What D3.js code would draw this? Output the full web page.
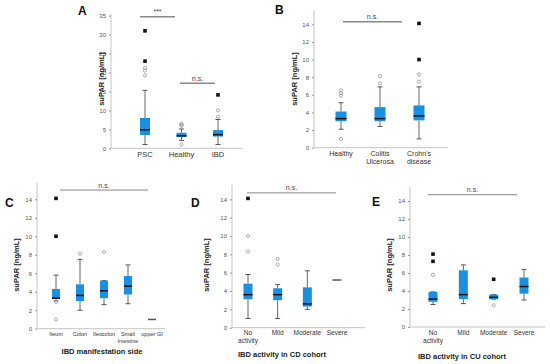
<!DOCTYPE html>
<html>
<head>
<meta charset="utf-8">
<script src="https://cdn.jsdelivr.net/npm/d3@7"></script>
<style>
  body { margin: 0; background: #fff; }
  svg { display: block; font-family: "Liberation Sans", Arial, sans-serif; }
</style>
</head>
<body>
<svg id="chart" width="550" height="364"></svg>
<script>
// box stats are [whiskerLow, q1, median, q3, whiskerHigh]
var catsA = ["PSC", "Healthy", "IBD"],
    boxA = [[1.0, 3.5, 4.9, 8.0, 15.3], [2.1, 3.0, 3.3, 4.1, 5.1], [1.0, 3.1, 3.6, 4.8, 7.6]],
    outA = [[19.2, 20.5, 21.2], [1.0, 5.9, 6.2, 6.5], [8.3, 10.0]],
    extA = [[23.0, 31.0], [], [14.1]];

var catsB = ["Healthy", "Colitis\nUlcerosa", "Crohn's\ndisease"],
    boxB = [[2.1, 3.0, 3.3, 4.1, 5.1], [2.4, 3.0, 3.3, 4.6, 6.9], [1.0, 3.1, 3.6, 4.8, 6.9]],
    outB = [[1.0, 5.9, 6.2, 6.5], [7.3, 8.1], [7.5, 8.3]],
    extB = [[], [], [10.0, 14.1]];

var catsC = ["Ileum", "Colon", "Ileocolon", "Small\nIntestine", "upper GI"],
    boxC = [[3.0, 3.2, 3.3, 4.3, 5.8], [2.0, 3.0, 3.6, 4.8, 7.5], [2.6, 3.3, 4.1, 5.2, 5.2],
            [2.7, 3.7, 4.6, 5.7, 6.9], [1.0, 1.0, 1.0, 1.0, 1.0]],
    outC = [[1.0, 2.9], [8.1], [8.3], [], []],
    extC = [[10.0, 14.1], [], [], [], []];

var catsD = ["No\nactivity", "Mild", "Moderate", "Severe"],
    boxD = [[1.0, 3.1, 3.6, 4.8, 5.8], [1.0, 3.0, 3.6, 4.3, 4.7], [2.0, 2.3, 2.6, 4.4, 6.2],
            [5.2, 5.2, 5.2, 5.2, 5.2]],
    outD = [[8.3, 10.0], [6.9, 7.5], [], []],
    extD = [[14.1], [], [], []];

var catsE = ["No\nactivity", "Mild", "Moderate", "Severe"],
    boxE = [[2.5, 2.8, 3.1, 3.9, 3.9], [2.6, 3.1, 3.6, 6.3, 6.9], [3.1, 3.1, 3.3, 3.6, 3.6],
            [3.0, 3.7, 4.5, 5.5, 6.4]],
    outE = [[5.8], [], [2.4], []],
    extE = [[7.3, 8.1], [], [5.3], []];

var ticksA = [0, 5, 10, 15, 20, 25, 30, 35],
    ticksBE = [0, 2, 4, 6, 8, 10, 12, 14];

var BLUE = "#1b8fe0",
    svg = d3.select("#chart");

function drawPanel(p) {
    var g = svg.append("g"),
        y = d3.scaleLinear().domain([0, p.ymax]).range(p.yr),
        x = d3.scalePoint().domain(p.cats).range(p.xr);

    // axis lines
    g.append("line").attr("x1", p.ax[0]).attr("x2", p.ax[0])
        .attr("y1", p.top).attr("y2", p.yr[0])
        .attr("stroke", "#c4c4c4").attr("stroke-width", 1);
    g.append("line").attr("x1", p.ax[0]).attr("x2", p.ax[1])
        .attr("y1", p.yr[0]).attr("y2", p.yr[0])
        .attr("stroke", "#c4c4c4").attr("stroke-width", 1);

    var yAxis = g.append("g").attr("transform", "translate(" + p.ax[0] + ",0)")
        .call(d3.axisLeft(y).tickValues(p.ticks).tickSize(2).tickPadding(3));
    yAxis.select(".domain").remove();
    yAxis.selectAll(".tick line").attr("stroke", "#999");
    yAxis.selectAll(".tick text").attr("fill", "#555").style("font-size", "6px")
        .style("font-family", "'Liberation Sans', Arial, sans-serif");

    // y title
    g.append("text")
        .attr("transform", "translate(" + p.ytx + "," + p.yty + ") rotate(-90)")
        .attr("text-anchor", "middle").attr("font-size", 7.5).attr("font-weight", "bold")
        .attr("fill", "#222").text("suPAR [ng/mL]");

    // category labels
    p.cats.forEach(function (c) {
        var lines = c.split("\n"),
            t = g.append("text").attr("text-anchor", "middle")
                .attr("font-size", p.cfs).attr("fill", "#333");
        lines.forEach(function (l, i) {
            t.append("tspan").attr("x", x(c)).attr("y", p.labY + i * (p.cfs + 1)).text(l);
        });
    });

    // boxes
    var bw = p.bw;
    p.cats.forEach(function (c, i) {
        var s = p.box[i], cx = x(c), bg = g.append("g");
        if (s[0] !== s[4]) {
            bg.append("line").attr("x1", cx).attr("x2", cx)
                .attr("y1", y(s[0])).attr("y2", y(s[1])).attr("stroke", "#666");
            bg.append("line").attr("x1", cx).attr("x2", cx)
                .attr("y1", y(s[3])).attr("y2", y(s[4])).attr("stroke", "#666");
            [s[0], s[4]].forEach(function (v) {
                bg.append("line").attr("x1", cx - 2.5).attr("x2", cx + 2.5)
                    .attr("y1", y(v)).attr("y2", y(v)).attr("stroke", "#555");
            });
        }
        if (s[3] > s[1]) {
            bg.append("rect").attr("x", cx - bw / 2).attr("width", bw)
                .attr("y", y(s[3])).attr("height", y(s[1]) - y(s[3]))
                .attr("fill", BLUE);
        }
        bg.append("line").attr("x1", cx - bw / 2).attr("x2", cx + bw / 2)
            .attr("y1", y(s[2])).attr("y2", y(s[2]))
            .attr("stroke", s[3] > s[1] ? "#111" : "#555").attr("stroke-width", 1.5);

        p.out[i].forEach(function (v) {
            bg.append("circle").attr("cx", cx).attr("cy", y(v)).attr("r", 1.6)
                .attr("fill", "none").attr("stroke", "#999").attr("stroke-width", 0.8);
        });
        p.ext[i].forEach(function (v) {
            bg.append("rect").attr("x", cx - 1.8).attr("y", y(v) - 1.8)
                .attr("width", 3.6).attr("height", 3.6).attr("fill", "#111");
        });
    });

    // significance bars
    p.sig.forEach(function (s) {
        g.append("line").attr("x1", s.x1).attr("x2", s.x2)
            .attr("y1", y(s.v)).attr("y2", y(s.v))
            .attr("stroke", "#888").attr("stroke-width", s.w);
        g.append("text").attr("x", (s.x1 + s.x2) / 2).attr("y", y(s.v) - 2.5)
            .attr("text-anchor", "middle").attr("font-size", 7).attr("fill", "#444")
            .text(s.label);
    });

    // panel letter
    g.append("text").attr("x", p.lx).attr("y", p.ly).attr("font-size", 12)
        .attr("font-weight", "bold").attr("fill", "#111").text(p.letter);

    if (p.title) {
        g.append("text").attr("x", p.tx).attr("y", p.ty).attr("text-anchor", "middle")
            .attr("font-size", 7.5).attr("font-weight", "bold").attr("fill", "#222")
            .text(p.title);
    }
}

drawPanel({letter: "A", lx: 78, ly: 15, cats: catsA, box: boxA, out: outA, ext: extA,
    ymax: 35, ticks: ticksA, yr: [148.3, 15.7], top: 14, ax: [111, 242], xr: [145, 218],
    bw: 10, ytx: 104, yty: 79, labY: 157, cfs: 7.5,
    sig: [{x1: 140, x2: 175, v: 34.7, label: "***", w: 1.5},
          {x1: 180, x2: 215, v: 17.2, label: "n.s.", w: 1.5}]});

drawPanel({letter: "B", lx: 275, ly: 14, cats: catsB, box: boxB, out: outB, ext: extB,
    ymax: 14, ticks: ticksBE, yr: [147.7, 24.3], top: 10, ax: [314, 448], xr: [341, 419],
    bw: 11, ytx: 297, yty: 79, labY: 156, cfs: 7,
    sig: [{x1: 343, x2: 402, v: 14.3, label: "n.s.", w: 1.5}]});

drawPanel({letter: "C", lx: 5, ly: 207, cats: catsC, box: boxC, out: outC, ext: extC,
    ymax: 14, ticks: ticksBE, yr: [328.7, 199.3], top: 183, ax: [37, 165], xr: [56, 152],
    bw: 8, ytx: 19, yty: 265, labY: 336, cfs: 5.5,
    title: "IBD manifestation side", tx: 102, ty: 354,
    sig: [{x1: 60, x2: 148, v: 15.0, label: "n.s.", w: 1}]});

drawPanel({letter: "D", lx: 191, ly: 207, cats: catsD, box: boxD, out: outD, ext: extD,
    ymax: 14, ticks: ticksBE, yr: [327.7, 199.3], top: 185, ax: [232, 365], xr: [248, 337],
    bw: 9, ytx: 209, yty: 265, labY: 335, cfs: 6.5,
    title: "IBD activity in CD cohort", tx: 282, ty: 357,
    sig: [{x1: 247, x2: 336, v: 14.7, label: "n.s.", w: 1}]});

drawPanel({letter: "E", lx: 372, ly: 206, cats: catsE, box: boxE, out: outE, ext: extE,
    ymax: 14, ticks: ticksBE, yr: [327, 201], top: 187, ax: [410, 545], xr: [433, 524],
    bw: 9, ytx: 392, yty: 265, labY: 335, cfs: 6.5,
    title: "IBD activity in CU cohort", tx: 462, ty: 359,
    sig: [{x1: 428, x2: 517, v: 14.7, label: "n.s.", w: 1}]});
</script>
</body>
</html>
